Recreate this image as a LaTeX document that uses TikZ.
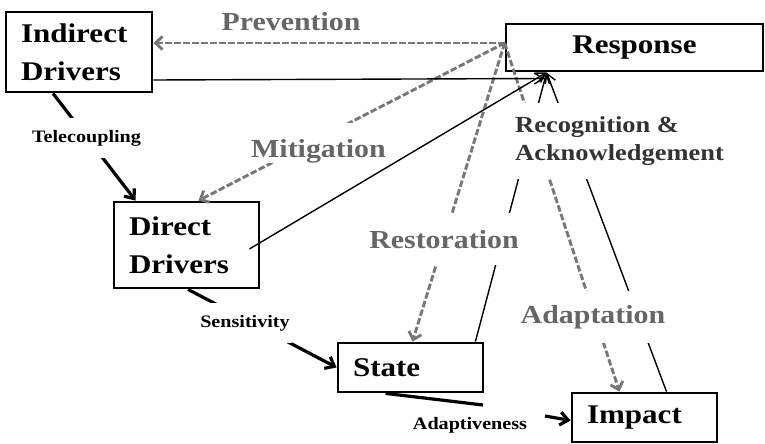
\documentclass[tikz,border=0pt]{standalone}
\usepackage{fontspec}
\setmainfont{Liberation Serif}
\newfontfamily\tms[FakeStretch=1.15]{Liberation Serif}
\usetikzlibrary{arrows.meta}
\definecolor{dashgray}{HTML}{777777}
\definecolor{lblgray}{HTML}{666666}
\definecolor{reclbl}{HTML}{333333}

\begin{document}
\begin{tikzpicture}[x=1pt,y=-1pt,
  box/.style={draw, line width=2.8pt, align=left, inner xsep=15pt, inner ysep=0pt,
    font={\tms\fontsize{27}{38}\selectfont\bfseries}},
  glbl/.style={font={\tms\fontsize{26}{30}\selectfont\bfseries}, text=lblgray,
    fill=white, inner xsep=3pt, anchor=base},
  blbl/.style={font={\tms\fontsize{17.5}{20}\selectfont\bfseries}, text=black,
    fill=white, inner xsep=2pt, inner ysep=12pt, anchor=base},
  graydash/.style={draw=dashgray, line width=2.9pt, dash pattern=on 6.5pt off 2.5pt,
    -{Straight Barb[length=7pt,width=13pt]}},
  thinarr/.style={draw=black, line width=1.4pt, -{Straight Barb[length=9pt,width=11pt]}},
  thickarr/.style={draw=black, line width=3.2pt, -{Straight Barb[length=8pt,width=13pt]}},
  thickline/.style={draw=black, line width=3.2pt},
]
\useasboundingbox (0,0) rectangle (765,444);

% boxes
\node[box, text width=116pt, minimum width=146pt, minimum height=80pt] (ind) at (79,52) {Indirect\\Drivers};
\node[box, text width=115pt, minimum width=145pt, minimum height=86pt] (dir) at (186.5,245) {Direct\\Drivers};
\node[box, text width=115pt, minimum width=145pt, minimum height=49pt] (st) at (410.5,367.5) {State};
\node[box, text width=115pt, minimum width=145pt, minimum height=49pt] (imp) at (644.5,417.5) {Impact};
\node[box, align=center, inner xsep=0pt, minimum width=257pt, minimum height=47pt] (resp) at (634.5,47.5) {Response};

% common points of the response box
\coordinate (src) at ([yshift=4.5pt]resp.west);
\coordinate (hub) at ([shift={(42pt,-25pt)}]resp.west);
\coordinate (hubl) at ([shift={(40pt,-31pt)}]resp.west);

% responses (dashed)
\draw[graydash] (src) -- ([yshift=9pt]ind.east);
\draw[graydash] (src) -- ([xshift=12pt]dir.north);
\draw[graydash] (src) -- ([xshift=2pt]st.north);
\draw[graydash] (src) -- ([xshift=-25pt]imp.north);

% recognition (thin, into response)
\draw[thinarr] ([yshift=-28pt]ind.east) -- (hubl);
\draw[thinarr] ([shift={(-11pt,-4pt)}]dir.east) -- (hub);
\draw[thinarr] ([xshift=-9pt]st.north east) -- (hub);
\draw[thinarr] ([xshift=22pt]imp.north) -- (hub);

% causal chain (thick)
\draw[thickarr] ([xshift=-26pt]ind.south) -- ([xshift=23pt]dir.north west);
\draw[thickarr] ([xshift=1.5pt]dir.south) -- (st.west);
\coordinate (a1) at (483,405);
\coordinate (a2) at (545,416);
\draw[thickline] ([xshift=49pt]st.south west) -- (a1);
\draw[thickarr] (a2) -- ([yshift=-3pt]imp.west);

% labels
\node[glbl] (lprev) at (291,31) {Prevention};
\node[glbl, inner ysep=0pt, text height=34pt, text depth=6pt] (lmit) at (318.5,157) {Mitigation};
\node[glbl, inner ysep=17pt] (lres) at (444,248) {Restoration};
\node[glbl, inner ysep=14pt] (lada) at (593,323) {Adaptation};
\node[font={\tms\fontsize{23}{28}\selectfont\bfseries}, text=reclbl, fill=white,
  align=left, inner xsep=3pt, inner ysep=13pt] (lrec) at (619.5,141) {Recognition \&\\Acknowledgement};
\node[blbl] (ltel) at (86.5,142) {Telecoupling};
\node[blbl] (lsen) at (245,327) {Sensitivity};
\node[blbl, fill=none] (ladp) at (470,429) {Adaptiveness};
\end{tikzpicture}
\end{document}
